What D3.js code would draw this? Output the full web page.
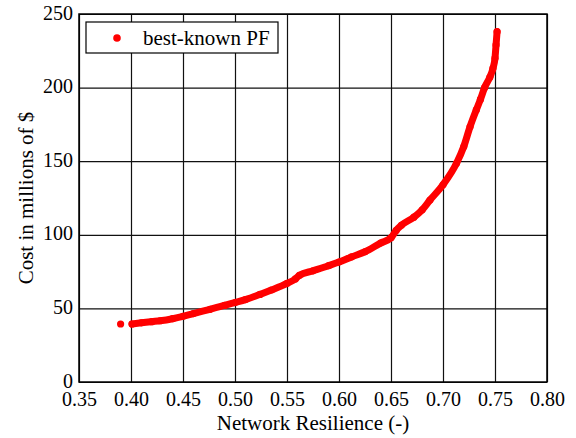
<!DOCTYPE html>
<html lang="en">
<head>
    <meta charset="UTF-8"/>
    <title>Best-known Pareto front</title>
    <script src="https://d3js.org/d3.v7.min.js"></script>
    <style>
        body { margin: 0; background: white; }
        text { font-family: "Liberation Serif", "Times New Roman", serif; fill: black; }
    </style>
</head>
<body>
    <script>
        var w = 576;
        var h = 438;
        var margin = { left: 79, right: 29, top: 14, bottom: 56 };

        // values
        var isolatedResilience = [0.390];
        var isolatedCost = [39.4];
        var resilience = [0.401, 0.41, 0.42, 0.428, 0.44, 0.45, 0.46, 0.476, 0.49,
                          0.50, 0.51, 0.524, 0.535, 0.55, 0.558, 0.562, 0.575, 0.59, 0.60,
                          0.612, 0.625, 0.64, 0.65, 0.655, 0.66, 0.672, 0.68, 0.6875, 0.70,
                          0.713, 0.72, 0.726, 0.732, 0.736, 0.740, 0.745, 0.748, 0.750, 0.751, 0.752];
        var cost = [39.4, 40.2, 41, 41.6, 43, 44.6, 46.5, 49.4, 52,
                    54, 56, 59.5, 62.5, 67, 70, 72.5, 75.5, 79, 81.5,
                    85, 88.5, 94.4, 98, 103, 106.5, 112, 117, 123.6, 134,
                    148.6, 160, 173.4, 184.8, 192, 200, 207, 213, 220, 229, 238];
        var xTicks = [0.35, 0.40, 0.45, 0.50, 0.55, 0.60, 0.65, 0.70, 0.75, 0.80];
        var yTicks = [0, 50, 100, 150, 200, 250];
        var seriesName = "best-known PF";

        var front = resilience.map(function(r, i) { return [r, cost[i]]; });
        var isolated = isolatedResilience.map(function(r, i) { return [r, isolatedCost[i]]; });

        var xScale = d3.scaleLinear()
                        .domain([0.35, 0.80])
                        .range([margin.left, w - margin.right]);

        var yScale = d3.scaleLinear()
                        .domain([0, 250])
                        .range([h - margin.bottom, margin.top]);

        var svg = d3.select("body")
                    .append("svg")
                    .attr("width", w)
                    .attr("height", h);

        var plotW = w - margin.left - margin.right;
        var plotH = h - margin.top - margin.bottom;

        // grid + tick labels
        var xAxis = d3.axisBottom(xScale)
                      .tickValues(xTicks)
                      .tickSize(-plotH)
                      .tickPadding(10)
                      .tickFormat(d3.format(".2f"));

        var yAxis = d3.axisLeft(yScale)
                      .tickValues(yTicks)
                      .tickSize(-plotW)
                      .tickPadding(6)
                      .tickFormat(d3.format("d"));

        var gx = svg.append("g")
           .attr("transform", "translate(0," + (h - margin.bottom) + ")")
           .call(xAxis);

        var gy = svg.append("g")
           .attr("transform", "translate(" + margin.left + ",0)")
           .call(yAxis);

        [gx, gy].forEach(function(g) {
            g.select(".domain").remove();
            g.selectAll(".tick line")
             .attr("stroke", "#111")
             .attr("stroke-width", 1.2);
            g.selectAll(".tick text")
             .attr("font-size", "20px")
             .attr("fill", "black");
        });
        gy.selectAll(".tick text").attr("dy", "0.25em");

        // frame
        svg.append("rect")
           .attr("x", margin.left)
           .attr("y", margin.top)
           .attr("width", plotW)
           .attr("height", plotH)
           .attr("fill", "none")
           .attr("stroke", "black")
           .attr("stroke-width", 1.5);

        // axis titles
        svg.append("text")
           .attr("text-anchor", "middle")
           .attr("x", margin.left + plotW / 2)
           .attr("y", 430)
           .attr("font-size", "21px")
           .text("Network Resilience (-)");

        svg.append("text")
           .attr("text-anchor", "middle")
           .attr("transform", "rotate(-90)")
           .attr("x", -(margin.top + plotH / 2))
           .attr("y", 33)
           .attr("font-size", "21px")
           .text("Cost in millions of $");

        var line = d3.line()
                     .x(function(d) { return xScale(d[0]); })
                     .y(function(d) { return yScale(d[1]); })
                     .curve(d3.curveMonotoneX);

        svg.append("path")
           .datum(front)
           .attr("d", line)
           .attr("fill", "none")
           .attr("stroke", "#ff0000")
           .attr("stroke-width", 7)
           .attr("stroke-linecap", "round")
           .attr("stroke-linejoin", "round");

        svg.selectAll("circle.pt")
           .data(front.concat(isolated))
           .enter()
           .append("circle")
           .attr("class", "pt")
           .attr("cx", function(d) { return xScale(d[0]); })
           .attr("cy", function(d) { return yScale(d[1]); })
           .attr("r", 3.6)
           .attr("fill", "#ff0000");

        // legend
        var legend = svg.append("g");
        legend.append("rect")
              .attr("x", 86)
              .attr("y", 22)
              .attr("width", 192)
              .attr("height", 31)
              .attr("fill", "white")
              .attr("stroke", "black")
              .attr("stroke-width", 1.2);
        legend.append("circle")
              .attr("cx", 117)
              .attr("cy", 38)
              .attr("r", 3.8)
              .attr("fill", "#ff0000");
        legend.append("text")
              .attr("x", 143)
              .attr("y", 45)
              .attr("font-size", "21px")
              .text(seriesName);
    </script>
</body>
</html>
